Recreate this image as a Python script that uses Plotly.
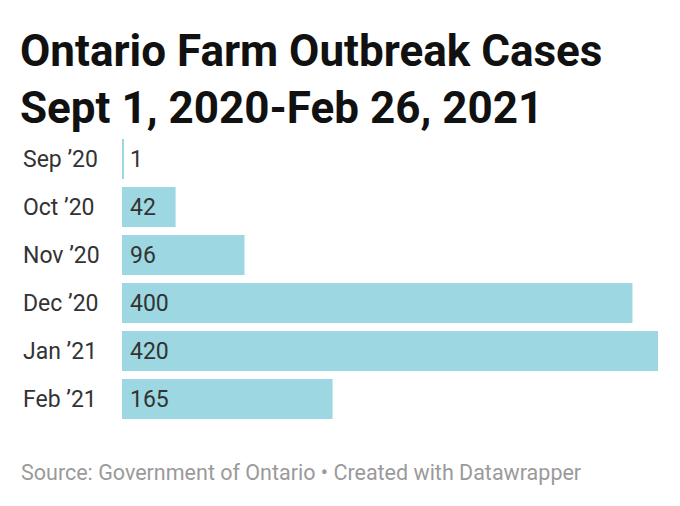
import plotly.graph_objects as go

months = ["Sep ’20", "Oct ’20", "Nov ’20", "Dec ’20", "Jan ’21", "Feb ’21"]
cases = [1, 42, 96, 400, 420, 165]

fig = go.Figure(go.Bar(x=cases, y=months, orientation="h", marker_color="#9dd8e2",
                       marker_line_width=0, hoverinfo="skip"))
ann = []
for m, v in zip(months, cases):
    ann.append(dict(x=0, y=m, xref="x", yref="y", text=str(v), showarrow=False,
                    xanchor="left", xshift=6, font=dict(size=23, color="#333", family="Roboto")))
    ann.append(dict(x=0, y=m, xref="paper", yref="y", text=m, showarrow=False,
                    xanchor="left", xshift=-101, font=dict(size=23, color="#333", family="Roboto")))
ann.append(dict(x=0, y=1, xref="paper", yref="paper", xshift=-103, yshift=-337,
                text="Source: Government of Ontario • Created with Datawrapper", showarrow=False,
                xanchor="left", yanchor="middle", font=dict(size=21.5, color="#9a9a9a", family="Roboto")))
ann.append(dict(x=0, y=1, xref="paper", yref="paper", xshift=-104, yshift=112,
                text="<b>Ontario Farm Outbreak Cases<br>Sept 1, 2020-Feb 26, 2021</b>", showarrow=False,
                xanchor="left", yanchor="top", align="left",
                font=dict(size=44, color="#111", family="Roboto")))
fig.update_layout(
    width=680, height=506, paper_bgcolor="white", plot_bgcolor="white",
    margin=dict(l=114, r=30, t=127, b=91),
    xaxis=dict(visible=False, range=[0, 420], fixedrange=True),
    yaxis=dict(autorange="reversed", showticklabels=False, showgrid=False, zeroline=False),
    bargap=0.17, annotations=ann, showlegend=False,
)
fig.write_html("out.html")
